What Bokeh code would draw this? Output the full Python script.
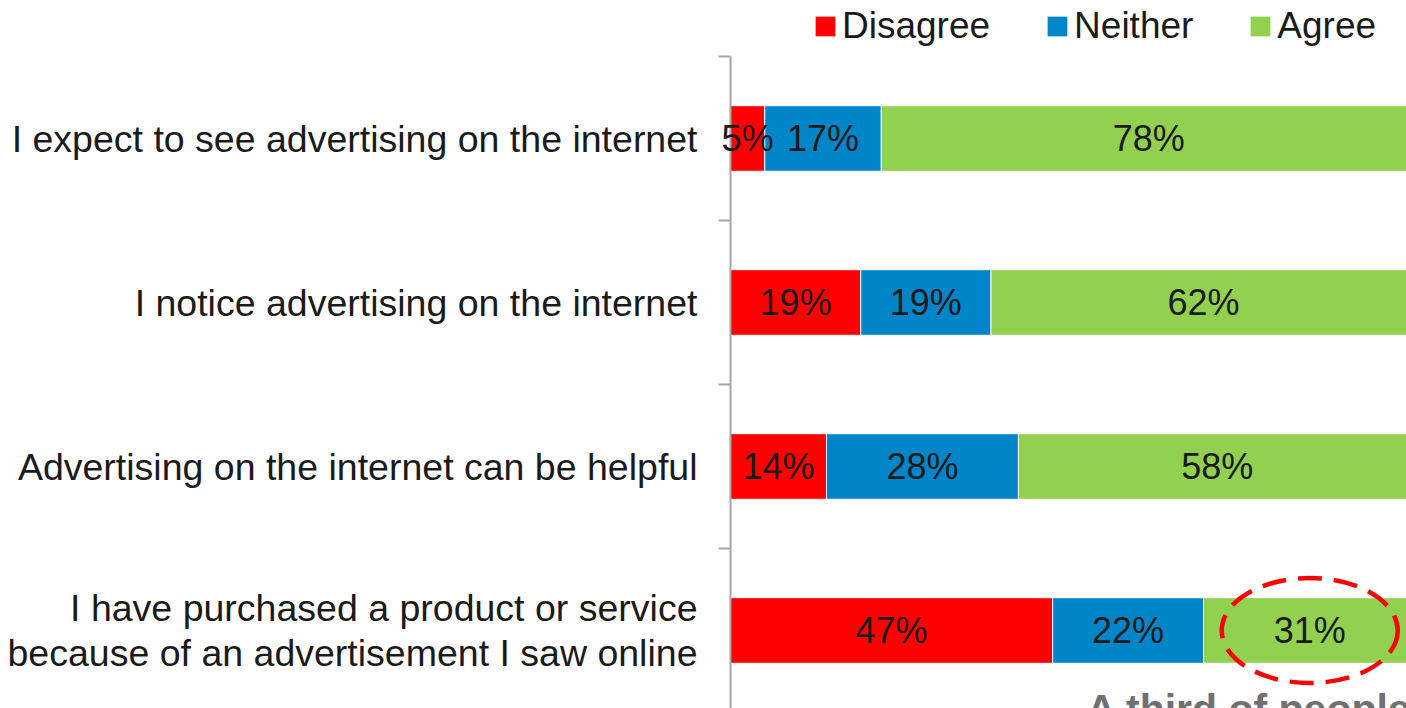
import pandas as pd
from bokeh.plotting import figure
from bokeh.models import ColumnDataSource, Range1d, FixedTicker, Label, LabelSet
from bokeh.core.properties import value
from bokeh.embed import file_html
from bokeh.resources import INLINE

statements = [
    "I expect to see advertising on the internet",
    "I notice advertising on the internet",
    "Advertising on the internet can be helpful",
    "I have purchased a product or service\nbecause of an advertisement I saw online",
]
disagree = [5, 19, 14, 47]
neither = [17, 19, 28, 22]
agree = [78, 62, 58, 31]
series = ["Disagree", "Neither", "Agree"]
colors = ["#FF0000", "#0085C8", "#92D050"]
note = "A third of people have purchased because of an online advert"

FONT = value("Liberation Sans")
PX = 6.855  # pixels per percent

df = pd.DataFrame({"statement": statements, "Disagree": disagree,
                   "Neither": neither, "Agree": agree})
df["y"] = list(range(len(df) - 1, -1, -1))
source = ColumnDataSource(df)

# label positions (segment centers)
lab = []
for i, s in enumerate(series):
    left = df[series[:i]].sum(axis=1) if i > 0 else 0
    part = pd.DataFrame({"x": left + df[s] / 2, "y": df["y"],
                         "txt": df[s].astype(str) + "%"})
    lab.append(part)
labels = pd.concat(lab, ignore_index=True)

p = figure(width=1406, height=708, output_backend="svg", toolbar_location=None,
           x_range=Range1d(-730 / PX, 676 / PX), y_range=Range1d(-0.4756, 3.8415),
           x_axis_location=None, min_border_left=0, min_border_right=0,
           min_border_top=0, min_border_bottom=0, outline_line_color=None)
p.grid.visible = False

p.hbar_stack(series, y="y", height=0.4, color=colors, source=source,
             line_color="white", line_width=1, legend_label=series)

p.add_layout(LabelSet(x="x", y="y", text="txt", source=ColumnDataSource(labels),
                      text_align="center", text_baseline="middle",
                      text_font=FONT, text_font_size=value("36px"),
                      text_color="#1a1a1a"))

# highlight ellipse around last row's Agree segment
last = df.iloc[[-1]]
ell = ColumnDataSource({"x": (last["Disagree"] + last["Neither"] + last["Agree"] / 2).tolist(),
                        "y": last["y"].tolist()})
p.ellipse(x="x", y="y", width=176, height=105, width_units="screen",
          height_units="screen", source=ell, fill_color=None,
          line_color="#FF0000", line_width=4.5, line_dash="24 12")

ax = p.yaxis[0]
ax.fixed_location = 0
ax.ticker = FixedTicker(ticks=df["y"].tolist(),
                        minor_ticks=[v + 0.5 for v in df["y"].tolist()])
ax.bounds = (-0.4756, 3.5)
ax.major_label_overrides = {int(y): s for y, s in zip(df["y"], df["statement"])}
ax.axis_line_color = "#A6A6A6"
ax.axis_line_width = 2
ax.major_tick_line_color = None
ax.major_tick_out = 0
ax.major_tick_in = 0
ax.minor_tick_line_color = "#A6A6A6"
ax.minor_tick_line_width = 2
ax.minor_tick_out = 12
ax.minor_tick_in = 0
ax.major_label_text_font = "Liberation Sans"
ax.major_label_text_font_size = "37.5px"
ax.major_label_text_color = "#1a1a1a"
ax.major_label_text_line_height = 1.05
ax.major_label_standoff = 21

lg = p.legend[0]
lg.orientation = "horizontal"
lg.location = (82 + 730, 661)
lg.margin = 0
lg.padding = 8
lg.spacing = 54
lg.glyph_width = 26
lg.glyph_height = 26
lg.label_standoff = 4
lg.label_text_font = "Liberation Sans"
lg.label_text_font_size = "37px"
lg.label_text_color = "#1a1a1a"
lg.border_line_color = None
lg.background_fill_alpha = 0

p.add_layout(Label(x=356 / PX, y=-0.62, text=note, text_font="Liberation Sans",
                   text_font_size="41px", text_font_style="bold",
                   text_color="#707070"))

open("out.html", "w").write(file_html(p, INLINE))
